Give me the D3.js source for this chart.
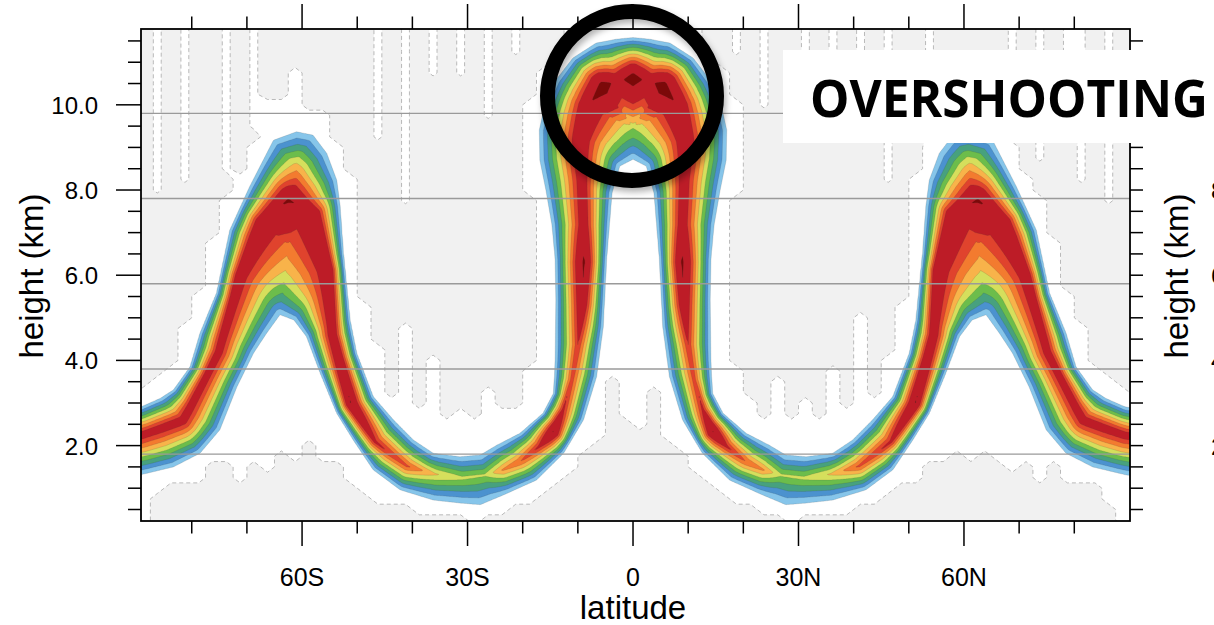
<!DOCTYPE html>
<html><head><meta charset="utf-8">
<script src="https://cdn.jsdelivr.net/npm/d3@7"></script>
<style>
html,body{margin:0;padding:0;background:#fff;}
svg{display:block;font-family:"Liberation Sans",Arial,Helvetica,sans-serif;}
</style></head>
<body>
<svg id="c" width="1214" height="625"></svg>
<script>
// ================= data =================
// outer edge of the coloured band (lightest contour, upper / poleward side)
const outerLat = [-91.5,-89.2,-85.7,-83.3,-80.3,-78.5,-75.5,-73.1,-69.5,-65.2,-61.0,-58.0,-55.5,-53.7,-53.1,-52.5,-51.3,-50.1,-47.1,-43.4,-39.8,-36.2,-31.4,-27.7,-24.7,-20.5,-16.3,-14.4,-14.1,-14.0,-14.1,-14.7,-15.8,-16.9,-17.0,-16.0,-14.0,-10.9,-6.7,-3.1,0,
  3.1,6.7,10.9,14.0,16.0,17.0,16.9,15.8,14.7,14.1,14.0,14.1,14.4,16.3,20.5,24.7,27.7,31.4,36.2,39.8,43.4,47.1,50.1,51.3,52.5,53.1,53.7,55.5,58.0,61.0,65.2,69.5,73.1,75.5,78.5,80.3,83.3,85.7,89.2,91.5];
const outerH = [2.86,2.91,3.11,3.31,3.85,4.64,5.58,7.06,8.08,9.17,9.37,9.29,8.86,8.23,7.61,6.51,4.95,4.17,3.15,2.60,2.13,1.82,1.74,1.78,2.01,2.29,2.76,3.23,4.01,5.42,6.36,7.18,8.00,8.70,9.41,9.99,10.58,11.10,11.45,11.54,11.58,
  11.54,11.45,11.10,10.58,9.99,9.41,8.70,8.00,7.18,6.36,5.42,4.01,3.23,2.76,2.29,2.01,1.78,1.74,1.82,2.13,2.60,3.15,4.17,4.95,6.51,7.61,8.23,8.86,9.29,9.37,9.17,8.08,7.06,5.58,4.64,3.85,3.31,3.11,2.91,2.86];
// inner edge of the coloured band (lightest contour, lower / interior side)
const innerLat = [-91.5,-89.4,-83.3,-78.5,-74.9,-71.8,-68.8,-66.4,-64.0,-61.5,-59.2,-56.7,-53.7,-50.7,-47.1,-42.2,-36.2,-31.4,-27.7,-23.5,-17.5,-12.6,-9.0,-6.6,-5.4,-5.1,-4.8,-3.8,-2.4,0,
  2.4,3.8,4.8,5.1,5.4,6.6,9.0,12.6,17.5,23.5,27.7,31.4,36.2,42.2,47.1,50.7,53.7,56.7,59.2,61.5,64.0,66.4,68.8,71.8,74.9,78.5,83.3,89.4,91.5];
const innerH = [1.28,1.31,1.50,1.82,2.37,3.38,4.17,4.64,5.07,4.95,4.56,3.70,2.76,2.13,1.43,0.96,0.72,0.65,0.61,0.84,1.19,1.82,2.60,3.62,4.79,5.58,6.36,7.93,8.56,8.72,
  8.56,7.93,6.36,5.58,4.79,3.62,2.60,1.82,1.19,0.84,0.61,0.65,0.72,0.96,1.43,2.13,2.76,3.70,4.56,4.95,5.07,4.64,4.17,3.38,2.37,1.82,1.50,1.31,1.28];
// ridge of maximum values inside the band, and the peak value along it (contour units)
const ridgeLat = [-91.5,-89.2,-81.6,-75.2,-71.6,-67.6,-62.5,-57.6,-54.9,-54.4,-51.2,-46.8,-41.0,-35.9,-31.0,-26.8,-23.6,-20.5,-16.9,-14.5,-12.7,-11.1,-10.0,-9.2,-8.9,-8.9,-9.2,-9.6,-8.2,-5.4,-2.9,0,
  2.9,5.4,8.2,9.6,9.2,8.9,8.9,9.2,10.0,11.1,12.7,14.5,16.9,20.5,23.6,26.8,31.0,35.9,41.0,46.8,51.2,54.4,54.9,57.6,62.5,67.6,71.6,75.2,81.6,89.2,91.5];
const ridgeH = [2.22,2.25,2.60,4.20,6.00,7.25,7.77,7.44,6.12,4.60,3.00,2.09,1.52,1.33,1.24,1.31,1.43,1.62,1.99,2.32,2.84,3.54,4.36,5.31,6.31,7.18,8.23,9.17,9.97,10.44,10.56,10.63,
  10.56,10.44,9.97,9.17,8.23,7.18,6.31,5.31,4.36,3.54,2.84,2.32,1.99,1.62,1.43,1.31,1.24,1.33,1.52,2.09,3.00,4.60,6.12,7.44,7.77,7.25,6.00,4.20,2.60,2.25,2.22];
const ridgePeak = [10.0,10.0,10.2,10.3,10.5,11.0,12.3,11.0,11.0,11.0,12.2,9.5,8.3,6.2,5.3,5.2,7.2,8.0,9.5,12.2,9.5,8.6,9.0,11.2,12.5,10.6,10.4,11.0,11.5,13.4,11.0,13.4,
  11.0,13.4,11.5,11.0,10.4,10.6,12.5,11.2,9.0,8.6,9.5,12.2,9.5,8.0,7.2,5.2,5.3,6.2,8.3,9.5,12.2,11.0,11.0,11.0,12.3,11.0,10.5,10.3,10.2,10.0,10.0];

const levels = [1,2,3,4,5,6,7,8,9,12];
const levelColors = ["#86c5ea","#4b92cf","#47a17e","#6cbd4b","#d5df5c","#f8b34a","#f37b2f","#e0432d","#bd1c27","#7c0909"];

// light-grey noise, per 2.5 degree column (-88.75 ... 88.75):
// upper patch from grayLo to grayHi (km), bottom patch up to grayBottom (km)
const grayLo = [3.0,3.5,4.0,4.6,5.0,5.8,6.8,8.0,8.6,10.1,10.2,11.0,10.0,9.8,6.5,5.5,3.2,4.5,2.8,5.0,2.8,4.2,2.6,3.0,2.6,3.5,2.8,3.0,4.0,5.5,9.0,99,99,99,99,99,
  99,99,99,99,99,8.5,5.0,3.8,3.2,2.7,3.6,2.6,3.2,2.7,4.0,2.8,5.2,3.0,4.2,3.4,5.0,6.8,9.8,10.1,11.0,10.2,10.0,8.8,8.0,6.5,5.6,5.2,4.4,4.0,3.4,3.0];
const grayHi = [12.5,7.8,12.5,8.2,12.5,12.5,8.3,12.5,9.4,12.5,12.5,12.5,12.5,12.5,12.5,12.5,12.5,9.0,12.5,7.5,12.5,10.5,12.5,10.5,12.5,9.5,12.5,11.0,12.5,12.5,12.5,99,99,99,99,99,
  99,99,99,99,99,12.5,12.5,11.0,12.5,9.8,12.5,12.5,10.0,12.5,10.8,12.5,9.5,12.5,8.0,12.5,12.5,9.2,12.5,12.5,12.5,12.5,12.5,9.6,12.5,8.5,12.5,10.4,8.0,12.5,7.6,12.5];
const grayBottom = [0,0.8,1.1,1.3,1.0,1.5,1.5,1.2,1.6,1.4,1.8,1.5,2.0,1.6,1.5,1.2,0.9,0.7,0.6,0.5,0.4,0.4,0.3,0.3,0.3,0.3,0.4,0.6,0.8,1.0,1.3,1.8,2.2,2.0,3.5,2.6,
  2.4,3.4,2.0,2.0,1.6,1.2,1.0,0.8,0.6,0.4,0.3,0.3,0.3,0.3,0.4,0.5,0.6,0.7,0.8,1.0,1.2,1.5,1.5,1.8,1.6,1.9,1.5,1.4,1.5,1.2,1.5,1.1,1.3,1.0,0.7,0];

const latMajor = [-60,-30,0,30,60];
const latLabels = ["60S","30S","0","30N","60N"];
const latMinor = [-80,-70,-50,-40,-20,-10,10,20,40,50,70,80];
const hMajor = [2,4,6,8,10];
const hLabels = ["2.0","4.0","6.0","8.0","10.0"];
const hAll = d3.range(1,24).map(k => k*0.5);
const hMinor = hAll.filter(v => v % 2 !== 0);
const refLines = [1.8,3.8,5.8,7.8,9.8];

// ================= scales =================
const L = 141, R = 1130, T = 29, B = 521;
const x = d3.scaleLinear().domain([-89.2, 90.1]).range([L, R]);
const y = d3.scaleLinear().domain([0.23, 11.78]).range([B, T]);

const svg = d3.select("#c");
const defs = svg.append("defs");
defs.append("clipPath").attr("id","pc").append("rect").attr("x",L).attr("y",T).attr("width",R-L).attr("height",B-T);
const flt = defs.append("filter").attr("id","sh").attr("x","-30%").attr("y","-30%").attr("width","160%").attr("height","160%");
flt.append("feDropShadow").attr("dx",2).attr("dy",4).attr("stdDeviation",3).attr("flood-color","#000").attr("flood-opacity",0.3);

// ================= band field =================
function prep(lats, hs, vals){
  const P = lats.map((la,i)=>[x(la), y(hs[i]), vals ? vals[i] : 0]);
  const S = [];
  for (let k=0;k<P.length-1;k++){
    const a=P[k], b=P[k+1];
    S.push({ax:a[0],ay:a[1],dx:b[0]-a[0],dy:b[1]-a[1],L2:Math.max(1e-9,(b[0]-a[0])**2+(b[1]-a[1])**2),
      va:a[2],vb:b[2],x0:Math.min(a[0],b[0]),x1:Math.max(a[0],b[0]),y0:Math.min(a[1],b[1]),y1:Math.max(a[1],b[1])});
  }
  return {P,S};
}
const OUT = prep(outerLat, outerH), INN = prep(innerLat, innerH), RID = prep(ridgeLat, ridgeH, ridgePeak);
let dVal = 0;
function dist(poly, px, py){
  let bd = Infinity, bv = 0;
  for (const s of poly.S){
    const ex = px<s.x0 ? s.x0-px : (px>s.x1 ? px-s.x1 : 0);
    const ey = py<s.y0 ? s.y0-py : (py>s.y1 ? py-s.y1 : 0);
    if (ex*ex+ey*ey >= bd*bd) continue;
    let t=((px-s.ax)*s.dx+(py-s.ay)*s.dy)/s.L2;
    t = t<0?0:(t>1?1:t);
    const d=Math.hypot(px-s.ax-t*s.dx, py-s.ay-t*s.dy);
    if (d<bd){ bd=d; bv=s.va+(s.vb-s.va)*t; }
  }
  dVal = bv;
  return bd;
}
const xyOf = p => [p[0],p[1]];
// band polygon = outer edge + reversed inner edge; inner half = ridge + reversed inner edge
const bandPoly = OUT.P.map(xyOf).concat(INN.P.slice().reverse().map(xyOf));
const innerHalfPoly = RID.P.map(xyOf).concat(INN.P.slice().reverse().map(xyOf));
function crossings(poly, py){
  const xs=[];
  for (let k=0;k<poly.length;k++){
    const a=poly[k], b=poly[(k+1)%poly.length];
    if ((a[1]>py)!==(b[1]>py)) xs.push(a[0]+(py-a[1])*(b[0]-a[0])/(b[1]-a[1]));
  }
  return xs.sort((p,q)=>p-q);
}
function fieldAt(px, py, inside, innerSide){
  if (!inside){
    const mn=Math.min(dist(OUT,px,py), dist(INN,px,py));
    return {v:1-mn/4, gap:mn};
  }
  const dE = innerSide ? dist(INN,px,py) : dist(OUT,px,py);
  const dR=dist(RID,px,py), A=dVal;
  return {v:1+(A-1)*dE/(dE+dR+1e-9), gap:-1};
}

const lat0=-92, dlat=0.25, hTop=12.0, dh=0.025;
const n=Math.round((92-lat0)/dlat)+1, m=Math.round((hTop+0.2)/dh)+1;
const vals=new Float64Array(n*m);
for (let j=0;j<m;j++){
  const py=y(hTop-j*dh);
  const xs=crossings(bandPoly,py), xi=crossings(innerHalfPoly,py);
  let c=0, ci=0;
  for (let i=0;i<n;i++){
    const px=x(lat0+i*dlat);
    while (c<xs.length && xs[c]<px) c++;
    while (ci<xi.length && xi[ci]<px) ci++;
    vals[i+j*n]=fieldAt(px,py,(c%2)===1,(ci%2)===1).v;
  }
}
const bandPath=d3.geoPath(d3.geoTransform({point(gx,gy){
  this.stream.point(x(lat0+(gx-0.5)*dlat), y(hTop-(gy-0.5)*dh));
}}));

// ================= grey noise field =================
const gn=74, gh0=12.5, gdh=0.25, gm=Math.round((12.5+0.5)/gdh)+1;
const gvals=new Float64Array(gn*gm);
for (let j=0;j<gm;j++){
  const h=gh0-j*gdh;
  for (let k=0;k<gn;k++){
    const i=Math.max(0,Math.min(71,k-1));
    const la=-91.25+2.5*k;
    let g=0;
    if (h>=grayLo[i] && h<=grayHi[i]) g=1;
    else if (h>grayHi[i] && grayHi[i]<12.5) g=0.3;
    if (h<=grayBottom[i]) g=1;
    if (g>0){
      const px=x(la), py=y(h);
      if (d3.polygonContains(bandPoly,[px,py])) g=0;
      else if (fieldAt(px,py,false,false).gap<16) g=0;
    }
    gvals[k+j*gn]=g;
  }
}
const grayPath=d3.geoPath(d3.geoTransform({point(gx,gy){
  this.stream.point(x(-91.25+(gx-0.5)*2.5), y(gh0-(gy-0.5)*gdh));
}}));

// ================= drawing =================
const plot=svg.append("g").attr("clip-path","url(#pc)");
const gc=d3.contours().size([gn,gm]).thresholds([0.5])(gvals);
plot.append("path").datum(gc[0]).attr("d",grayPath)
  .attr("fill","#f1f1f1").attr("stroke","#a8a8a8").attr("stroke-width",0.8).attr("stroke-dasharray","4,3");

const bc=d3.contours().size([n,m]).thresholds(levels)(vals);
plot.selectAll("path.band").data(bc).join("path").attr("class","band")
  .attr("d",bandPath).attr("fill",(d,i)=>levelColors[i])
  .attr("stroke","rgba(60,60,60,0.3)").attr("stroke-width",0.5);

plot.selectAll("line.ref").data(refLines).join("line").attr("class","ref")
  .attr("x1",L).attr("x2",R).attr("y1",d=>y(d)).attr("y2",d=>y(d))
  .attr("stroke","#9a9a9a").attr("stroke-width",1.4);

svg.append("rect").attr("x",L).attr("y",T).attr("width",R-L).attr("height",B-T)
  .attr("fill","none").attr("stroke","#000").attr("stroke-width",1.8);

const ax=svg.append("g").attr("stroke","#000").attr("stroke-width",1.5);
latMajor.forEach(v=>{
  ax.append("line").attr("x1",x(v)).attr("x2",x(v)).attr("y1",B).attr("y2",B+25);
  ax.append("line").attr("x1",x(v)).attr("x2",x(v)).attr("y1",T).attr("y2",T-25);
});
latMinor.forEach(v=>{
  ax.append("line").attr("x1",x(v)).attr("x2",x(v)).attr("y1",B).attr("y2",B+12.5);
  ax.append("line").attr("x1",x(v)).attr("x2",x(v)).attr("y1",T).attr("y2",T-12.5);
});
hMajor.forEach(v=>{ ax.append("line").attr("x1",L).attr("x2",L-25).attr("y1",y(v)).attr("y2",y(v)); });
hMinor.forEach(v=>{ ax.append("line").attr("x1",L).attr("x2",L-13).attr("y1",y(v)).attr("y2",y(v)); });
hAll.forEach(v=>{ ax.append("line").attr("x1",R).attr("x2",R+13).attr("y1",y(v)).attr("y2",y(v)); });

svg.selectAll("text.xl").data(latMajor).join("text").attr("class","xl")
  .attr("x",d=>x(d)).attr("y",586).attr("text-anchor","middle").attr("font-size",25)
  .text((d,i)=>latLabels[i]);
svg.selectAll("text.yl").data(hMajor).join("text").attr("class","yl")
  .attr("x",98).attr("y",d=>y(d)+9).attr("text-anchor","end").attr("font-size",24)
  .text((d,i)=>hLabels[i]);
svg.append("text").attr("x",633).attr("y",619).attr("text-anchor","middle").attr("font-size",33).text("latitude");
svg.append("text").attr("transform","translate(43,276) rotate(-90)").attr("text-anchor","middle").attr("font-size",33).text("height (km)");

// neighbouring panel, cut off at the right edge of the picture
svg.append("text").attr("transform","translate(1188,276) rotate(-90)").attr("text-anchor","middle").attr("font-size",33).text("height (km)");
svg.selectAll("text.yl2").data(hMajor.slice(0,4)).join("text").attr("class","yl2")
  .attr("x",1211).attr("y",d=>y(d)+9).attr("text-anchor","start").attr("font-size",24)
  .text((d,i)=>hLabels[i]);

// annotation circle
svg.append("circle").attr("cx",632).attr("cy",96).attr("r",84.5)
  .attr("fill","none").attr("stroke","#000").attr("stroke-width",15).attr("filter","url(#sh)");

// annotation box
svg.append("rect").attr("x",783).attr("y",50).attr("width",431).attr("height",93).attr("fill","#fff");
svg.append("text").attr("x",810).attr("y",117).attr("font-family","'Open Sans',sans-serif").attr("font-weight",700)
  .attr("font-size",52).attr("textLength",398).attr("lengthAdjust","spacingAndGlyphs").text("OVERSHOOTING");
</script>
</body></html>
